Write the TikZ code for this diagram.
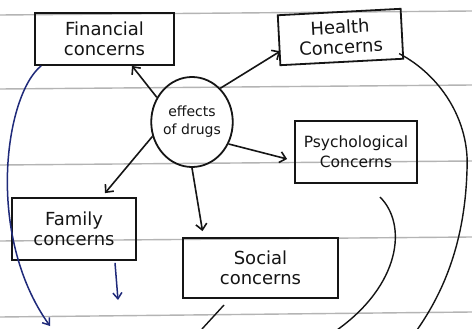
\documentclass[tikz,border=0pt]{standalone}
\usepackage{fontspec}
\setmainfont{DejaVu Sans}
\usetikzlibrary{arrows.meta,shapes.geometric}
\definecolor{ink}{HTML}{151515}
\definecolor{navy}{HTML}{1F2A7A}
\definecolor{paper}{HTML}{B4B4B4}
\begin{document}
\begin{tikzpicture}[x=1pt,y=-1pt,
  concernbox/.style={draw=ink,line width=1.8pt,inner sep=0pt,align=center,
    font=\fontsize{18}{20}\selectfont,text=ink},
  arr/.style={draw=ink,line width=1.6pt,-{Straight Barb[length=6pt,width=11pt]}},
  bluearr/.style={draw=navy,line width=1.5pt,-{Straight Barb[length=6pt,width=9pt]}},
  inkline/.style={draw=ink,line width=1.4pt},
  paperline/.style={draw=paper,line width=1.4pt}]
\fill[white] (0,0) rectangle (472,329);
\useasboundingbox (0,0) rectangle (472,329);
% ruled paper lines
\draw[paperline] (0,15) -- (472,11);
\draw[paperline] (0,89) -- (472,85);
\draw[paperline] (0,165) -- (472,161);
\draw[paperline] (0,241) -- (472,237);
\draw[paperline] (0,317) -- (472,312);
% nodes
\node[concernbox,minimum width=139pt,minimum height=52pt] (fin) at (104.5,39) {Financial\\concerns};
\node[concernbox,minimum width=123pt,minimum height=50pt,rotate=3] (health) at (340.5,37) {Health\\Concerns};
\node[concernbox,minimum width=122pt,minimum height=62pt,font=\fontsize{15.5}{20}\selectfont] (psych) at (356,152) {Psychological\\Concerns};
\node[concernbox,minimum width=124pt,minimum height=62pt] (family) at (74,229) {Family\\concerns};
\node[concernbox,minimum width=155pt,minimum height=60pt] (social) at (260.5,268) {Social\\concerns};
\node[ellipse,draw=ink,line width=1.8pt,minimum width=77pt,minimum height=90pt,inner sep=0pt,
  align=center,font=\fontsize{14}{18}\selectfont,text=ink] (eff) at (192,122) {effects\\of drugs};
% arrows from the centre
\draw[arr] (eff.145) -- ([xshift=27.5pt]fin.south);
\draw[arr] (eff.50) -- ([xshift=2pt,yshift=-11pt]health.west);
\draw[arr] (eff.-31) -- ([xshift=-7pt,yshift=-7pt]psych.west);
\draw[arr] (eff.200) -- ([xshift=31pt,yshift=4pt]family.north);
\draw[arr] (eff.south) -- ([xshift=-58pt,yshift=6pt]social.north);
% free ends
\coordinate (e1) at (50,326);
\coordinate (e2) at (118,300);
\coordinate (c1) at (224,305);
\coordinate (c2) at (202,329);
\coordinate (c3) at (380,197);
\coordinate (c4) at (337,330);
\coordinate (c5) at (467,170);
\coordinate (c6) at (417,330);
% blue curves
\draw[bluearr] ([xshift=7pt]fin.south west) .. controls (5,95) and (-15,235) .. (e1);
\draw[bluearr] ([xshift=41pt,yshift=-2pt]family.south) -- (e2);
% black continuation strokes
\draw[inkline] (c1) -- (c2);
\draw[inkline] (c3) .. controls (408,225) and (400,285) .. (c4);
\draw[inkline] ([xshift=-5pt,yshift=6pt]health.south east) .. controls (440,75) and (470,120) .. (c5)
  .. controls (465,240) and (445,290) .. (c6);
\end{tikzpicture}
\end{document}
